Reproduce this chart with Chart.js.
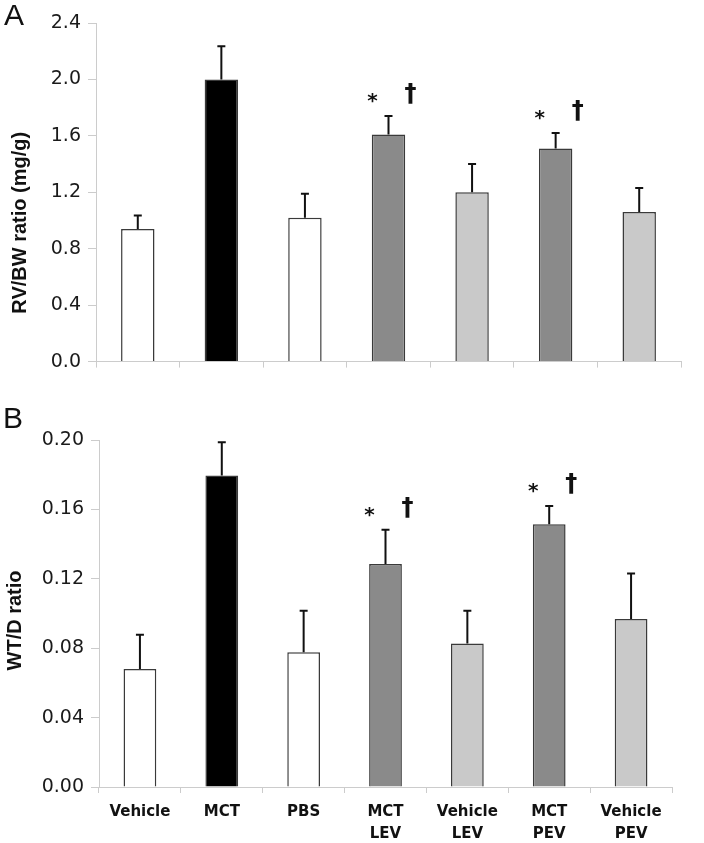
<!DOCTYPE html>
<html>
<head>
<meta charset="utf-8">
<script src="https://cdn.jsdelivr.net/npm/chart.js@4"></script>
<style>
  body { margin: 0; background: #fff; }
  .panel { position: absolute; left: 0; width: 704px; }
</style>
</head>
<body>
<div class="panel" style="top:0;height:380px"><canvas id="chartA"></canvas></div>
<div class="panel" style="top:380px;height:463px"><canvas id="chartB"></canvas></div>
<script>
// groups on the x axis (multi-line labels)
const categories = [['Vehicle'], ['MCT'], ['PBS'], ['MCT', 'LEV'], ['Vehicle', 'LEV'], ['MCT', 'PEV'], ['Vehicle', 'PEV']];

// panel A: RV/BW ratio (mg/g), mean and SD
const rvbwMean = [0.94, 2.00, 1.02, 1.61, 1.20, 1.51, 1.06];
const rvbwErr = [0.095, 0.235, 0.17, 0.13, 0.20, 0.11, 0.17];
const rvbwTicks = [0, 0.4, 0.8, 1.2, 1.6, 2.0, 2.4];

// panel B: WT/D ratio, mean and SD
const wtdMean = [0.068, 0.1795, 0.0776, 0.1285, 0.0827, 0.1514, 0.0969];
const wtdErr = [0.0197, 0.0192, 0.024, 0.0198, 0.0189, 0.0106, 0.0262];
const wtdTicks = [0, 0.04, 0.08, 0.12, 0.16, 0.20];

// significance marks over each bar
const sigStar = ['', '', '', '*', '', '*', ''];
const sigDagger = ['', '', '', '†', '', '†', ''];

const barColors = ['#ffffff', '#000000', '#ffffff', '#8a8a8a', '#c9c9c9', '#8a8a8a', '#c9c9c9'];
const FONT = "'Liberation Sans', Arial, sans-serif";
const WIDE = "'DejaVu Sans', sans-serif";

// error bars (upper only) + significance marks
const errorBarPlugin = {
    id: 'errorBars',
    afterDatasetsDraw(chart, args, opts) {
        const ctx = chart.ctx;
        const meta = chart.getDatasetMeta(0);
        const yScale = chart.scales.y;
        const values = chart.data.datasets[0].data;
        ctx.save();
        meta.data.forEach((bar, i) => {
            const top = yScale.getPixelForValue(values[i] + opts.errors[i]);
            ctx.strokeStyle = '#111';
            ctx.lineWidth = 2;
            ctx.beginPath();
            ctx.moveTo(bar.x, bar.y);
            ctx.lineTo(bar.x, top);
            ctx.moveTo(bar.x - 4, top);
            ctx.lineTo(bar.x + 4, top);
            ctx.stroke();

            ctx.fillStyle = '#111';
            ctx.textAlign = 'center';
            ctx.textBaseline = 'middle';
            if (sigStar[i]) {
                ctx.font = 'bold 20px ' + WIDE;
                ctx.fillText(sigStar[i], bar.x - 16, top - 14);
            }
            if (sigDagger[i]) {
                ctx.font = 'bold 24px ' + WIDE;
                ctx.fillText(sigDagger[i], bar.x + 22, top - 21);
            }
        });
        ctx.restore();
    }
};

// panel letter and rotated y title
const panelTextPlugin = {
    id: 'panelText',
    afterDraw(chart, args, opts) {
        const ctx = chart.ctx;
        const area = chart.chartArea;
        ctx.save();
        ctx.fillStyle = '#111';
        ctx.font = opts.letterSize + 'px ' + FONT;
        ctx.textAlign = 'left';
        ctx.textBaseline = 'top';
        ctx.fillText(opts.letter, opts.letterX, opts.letterY);

        ctx.translate(opts.titleX, area.top + (area.bottom - area.top) * opts.titleFrac);
        ctx.rotate(-Math.PI / 2);
        ctx.font = 'bold 20px ' + FONT;
        ctx.textAlign = 'center';
        ctx.textBaseline = 'middle';
        ctx.fillText(opts.title, 0, 0);
        ctx.restore();
    }
};

function makeChart(canvasId, means, errors, ticks, decimals, cfg) {
    const config = {
        type: 'bar',
        data: {
            labels: categories,
            datasets: [{
                data: means,
                backgroundColor: barColors,
                borderColor: '#3a3a3a',
                borderWidth: 1.5,
                barPercentage: 0.4,
                categoryPercentage: 1.0
            }]
        },
        options: {
            responsive: true,
            maintainAspectRatio: false,
            animation: false,
            layout: {
                padding: { left: 0, right: cfg.padRight, top: cfg.padTop, bottom: 0 }
            },
            scales: {
                x: {
                    grid: { drawOnChartArea: false, color: '#cccccc', tickLength: 6, offset: true },
                    border: { color: '#cccccc' },
                    ticks: {
                        display: cfg.showLabels,
                        color: '#111',
                        padding: 8,
                        maxRotation: 0,
                        autoSkip: false,
                        font: { family: WIDE, size: 15, weight: 'bold', lineHeight: 1.45 }
                    },
                    afterFit: (scale) => { scale.height = cfg.xHeight; }
                },
                y: {
                    min: ticks[0],
                    max: ticks[ticks.length - 1],
                    grid: { drawOnChartArea: false, color: '#cccccc', tickLength: 8 },
                    border: { color: '#cccccc' },
                    afterBuildTicks: (scale) => { scale.ticks = ticks.map(v => ({ value: v })); },
                    ticks: {
                        color: '#1a1a1a',
                        padding: 7,
                        font: { family: WIDE, size: 19 },
                        callback: (v) => Number(v).toFixed(decimals)
                    },
                    afterFit: (scale) => { scale.width = cfg.yWidth; }
                }
            },
            plugins: {
                legend: { display: false },
                tooltip: { enabled: false },
                errorBars: { errors: errors },
                panelText: cfg.text
            }
        },
        plugins: [errorBarPlugin, panelTextPlugin]
    };
    return new Chart(document.getElementById(canvasId), config);
}

const chartA = makeChart('chartA', rvbwMean, rvbwErr, rvbwTicks, 1, {
    padRight: 23, padTop: 23, xHeight: 12, yWidth: 96, showLabels: false,
    text: { letter: 'A', letterSize: 30, letterX: 4, letterY: 2, title: 'RV/BW ratio (mg/g)', titleX: 20, titleFrac: 0.59 }
});

const chartB = makeChart('chartB', wtdMean, wtdErr, wtdTicks, 2, {
    padRight: 32, padTop: 60, xHeight: 56, yWidth: 99, showLabels: true,
    text: { letter: 'B', letterSize: 30, letterX: 3, letterY: 25, title: 'WT/D ratio', titleX: 15, titleFrac: 0.52 }
});
</script>
</body>
</html>
